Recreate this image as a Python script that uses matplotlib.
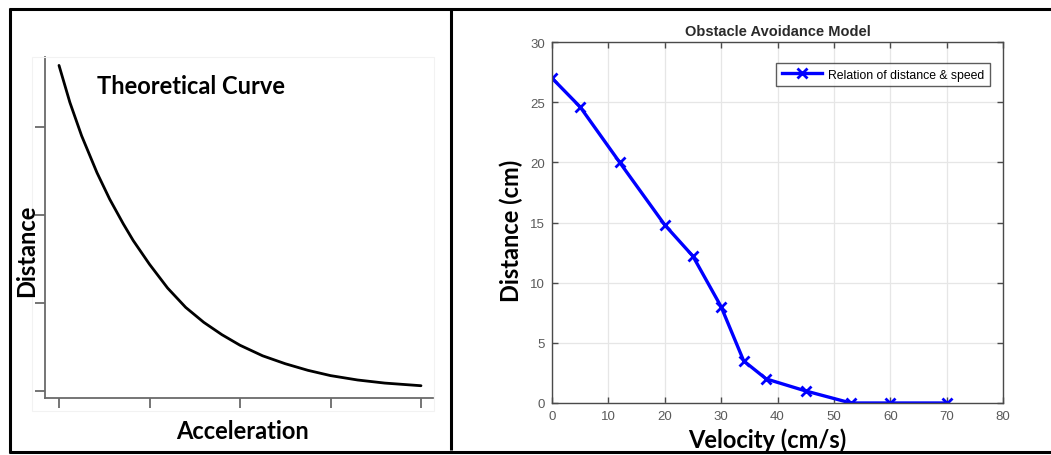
import numpy as np
import matplotlib
matplotlib.use("Agg")
import matplotlib.pyplot as plt
from matplotlib.lines import Line2D
from matplotlib.patches import Rectangle

W, H = 1051, 456

# courbe théorique (unités arbitraires)
accel_th = [0.0, 0.12, 0.25, 0.42, 0.56, 0.71, 0.82, 1.0, 1.2, 1.4, 1.6, 1.8, 2.0,
            2.25, 2.5, 2.75, 3.0, 3.3, 3.6, 4.0]
dist_th = [3.70, 3.28, 2.90, 2.48, 2.18, 1.90, 1.71, 1.44, 1.17, 0.95, 0.78, 0.64, 0.52,
           0.40, 0.31, 0.235, 0.175, 0.125, 0.09, 0.06]

# mesures : vitesse (cm/s) / distance (cm)
vitesse = [0, 5, 12, 20, 25, 30, 34, 38, 45, 53, 60, 70]
distance = [27, 24.6, 20, 14.8, 12.2, 8, 3.5, 2, 1, 0, 0, 0]

x_ticks = [0, 10, 20, 30, 40, 50, 60, 70, 80]
y_ticks = [0, 5, 10, 15, 20, 25, 30]

label_font = "Lato"
label_size = 17


def fx(px):
    return px / W


def fy(py):
    return 1 - py / H


fig = plt.figure(figsize=(W / 100, H / 100), dpi=100)

# cadre
cadre = dict(color="black", lw=2.2, solid_capstyle="butt", transform=fig.transFigure)
fig.add_artist(Line2D([fx(9), 1], [fy(10), fy(10)], **cadre))
fig.add_artist(Line2D([fx(9), 1], [fy(453), fy(453)], **cadre))
fig.add_artist(Line2D([fx(10), fx(10)], [fy(9), fy(454)], **cadre))
fig.add_artist(Line2D([fx(451), fx(451)], [fy(10), fy(451)], **cadre))

# --- panneau gauche : courbe théorique
fig.add_artist(Rectangle((fx(32), fy(412)), fx(434) - fx(32), fy(58) - fy(412),
                         fill=False, ec="#f2f2f2", lw=0.8, transform=fig.transFigure))
ax1 = fig.add_axes([fx(45), fy(399), fx(433) - fx(45), fy(58) - fy(399)])
ax1.plot(accel_th, dist_th, color="black", lw=2.0, solid_joinstyle="round", solid_capstyle="round")
ax1.set_xlim((45 - 59) / 90.5, (433 - 59) / 90.5)
ax1.set_ylim((392 - 399) / 88, (392 - 58) / 88)
ax1.set_xticks([0, 1, 2, 3, 4])
ax1.set_yticks([0, 1, 2, 3])
ax1.set_xticklabels([])
ax1.set_yticklabels([])
for s in ["top", "right"]:
    ax1.spines[s].set_visible(False)
for s in ["left", "bottom"]:
    ax1.spines[s].set_color("#6a6a6a")
    ax1.spines[s].set_linewidth(1.3)
ax1.tick_params(direction="out", length=7, width=1.3, color="#6a6a6a")
ax1.patch.set_alpha(0)

fig.text(fx(97), fy(87), "Theoretical Curve", fontsize=label_size, fontweight="bold",
         family=label_font, ha="left", va="center")
fig.text(fx(27), fy(251), "Distance", fontsize=label_size, fontweight="bold",
         family=label_font, ha="center", va="center", rotation=90)
fig.text(fx(243), fy(432), "Acceleration", fontsize=label_size, fontweight="bold",
         family=label_font, ha="center", va="center")

# --- panneau droit : modèle d'évitement
ax2 = fig.add_axes([fx(552), fy(404), fx(1003) - fx(552), fy(43) - fy(404)])
ax2.plot(vitesse, distance, color="#0000ff", lw=2.4, marker="x", ms=7, mew=2,
         label="Relation of distance & speed")
ax2.set_xlim(0, 80)
ax2.set_ylim(0, 30)
ax2.set_xticks(x_ticks)
ax2.set_yticks(y_ticks)
ax2.grid(True, color="#e6e6e6", lw=0.9)
ax2.set_axisbelow(True)
for s in ax2.spines.values():
    s.set_color("#4a4a4a")
    s.set_linewidth(1.0)
ax2.tick_params(direction="in", length=4, width=1.0, color="#4a4a4a",
                labelcolor="#5a5a5a", labelsize=9.5, top=True, right=True, pad=5)
for lbl in ax2.get_xticklabels() + ax2.get_yticklabels():
    lbl.set_family("Liberation Sans")
ax2.set_title("Obstacle Avoidance Model", fontsize=10.5, fontweight="bold",
              family="Liberation Sans", color="#2a2a2a", pad=5)
leg = ax2.legend(loc="upper right", bbox_to_anchor=(1 - 13 / 451, 1 - 21 / 361),
                 borderaxespad=0, handlelength=3.3, frameon=True,
                 fancybox=False, borderpad=0.45, handletextpad=0.5,
                 prop={"family": "Liberation Sans", "size": 8.8})
leg.get_frame().set_edgecolor("#333333")
leg.get_frame().set_linewidth(1.0)

fig.text(fx(511), fy(231), "Distance (cm)", fontsize=label_size, fontweight="bold",
         family=label_font, ha="center", va="center", rotation=90)
fig.text(fx(767), fy(440), "Velocity (cm/s)", fontsize=label_size, fontweight="bold",
         family=label_font, ha="center", va="center")

fig.savefig("out.png", dpi=100)
